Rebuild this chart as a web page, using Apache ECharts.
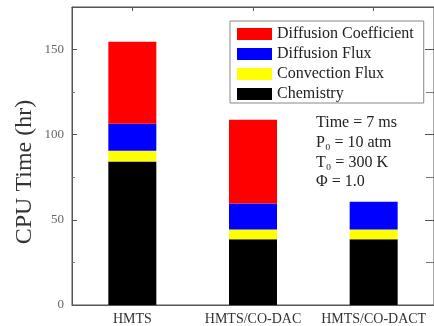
<!DOCTYPE html>
<html><head><meta charset="utf-8">
<script src="https://cdn.jsdelivr.net/npm/echarts@6/dist/echarts.min.js"></script>
<style>html,body{margin:0;padding:0;background:#fff}#c{width:434px;height:326px}</style>
</head><body><div id="c"></div>
<script>
const categories = ['HMTS', 'HMTS/CO-DAC', 'HMTS/CO-DACT'];
const chemistry = [84.2, 38.6, 38.6];
const convection = [6.4, 5.8, 5.8];
const diffusionFlux = [15.8, 15.2, 16.2];
const diffusionCoef = [48.2, 49.2, 0];
const seriesNames = ['Chemistry', 'Convection Flux', 'Diffusion Flux', 'Diffusion Coefficient'];
const yTicks = [0, 50, 100, 150];
const notes = ['Time = 7 ms', 'P\u2080 = 10 atm', 'T\u2080 = 300 K', '\u03A6 = 1.0'];
const yTitle = 'CPU Time (hr)';

const serif = 'Liberation Serif, Times New Roman, DejaVu Serif, serif';
const chart = echarts.init(document.getElementById('c'), null, {renderer: 'canvas'});
const colors = ['#000000', '#ffff00', '#0000ff', '#ff0000'];
const dataSets = [chemistry, convection, diffusionFlux, diffusionCoef];

chart.setOption({
  animation: false,
  grid: {left: 72, right: -6, top: 7, bottom: 20, containLabel: false,
    show: true, borderColor: '#555', borderWidth: 1, backgroundColor: 'transparent'},
  legend: {
    orient: 'vertical', left: 230, top: 21,
    data: seriesNames.slice().reverse(),
    itemWidth: 35, itemHeight: 12, itemGap: 4, itemStyle: {borderWidth: 0},
    padding: [5, 10, 1, 7],
    borderColor: '#888', borderWidth: 1, borderRadius: 0,
    textStyle: {fontFamily: serif, fontSize: 16, color: '#222'},
    icon: 'rect'
  },
  xAxis: [{
    type: 'category', data: categories, position: 'bottom',
    axisLine: {onZero: false, lineStyle: {color: '#555', width: 1}},
    axisTick: {show: true, inside: true, alignWithLabel: true, length: 4, lineStyle: {color: '#555'}},
    axisLabel: {fontFamily: serif, fontSize: 14, color: '#333', margin: 7, interval: 0}
  }, {
    type: 'category', data: categories, position: 'top',
    axisLine: {show: true, onZero: false, lineStyle: {color: '#555', width: 1}},
    axisTick: {show: true, inside: true, alignWithLabel: true, length: 4, lineStyle: {color: '#555'}},
    axisLabel: {show: false}
  }],
  yAxis: [{
    type: 'value', min: 0, max: 175, interval: 50,
    axisLine: {show: true, onZero: false, lineStyle: {color: '#555', width: 1}},
    axisTick: {show: true, inside: true, length: 5, lineStyle: {color: '#555'}},
    minorTick: {show: true, splitNumber: 2, length: 3, lineStyle: {color: '#777'}},
    splitLine: {show: false},
    axisLabel: {fontFamily: serif, fontSize: 13, color: '#666', margin: 8,
      formatter: v => yTicks.includes(v) ? String(v) : ''}
  }, {
    type: 'value', min: 0, max: 175, interval: 50, position: 'right',
    axisLine: {show: true, onZero: false, lineStyle: {color: '#555', width: 1}},
    axisTick: {show: true, inside: true, length: 9, lineStyle: {color: '#555'}},
    minorTick: {show: true, splitNumber: 2, length: 8, lineStyle: {color: '#777'}},
    splitLine: {show: false}, axisLabel: {show: false}
  }],
  series: seriesNames.map((n, i) => ({
    name: n, type: 'bar', stack: 'cpu', data: dataSets[i],
    barWidth: 48, itemStyle: {color: colors[i]}, xAxisIndex: 0, yAxisIndex: 0
  })),
  graphic: notes.map((t, i) => ({
    type: 'text', x: 316, y: 123 + i * 19.7,
    style: {text: t, fontFamily: serif, fontSize: 16, fill: '#222', verticalAlign: 'middle'}
  })).concat([{
    type: 'text', x: 25, y: 172, rotation: Math.PI / 2,
    style: {text: yTitle, fontFamily: serif, fontSize: 24, fill: '#333', align: 'center', verticalAlign: 'middle'}
  }])
});
</script></body></html>
